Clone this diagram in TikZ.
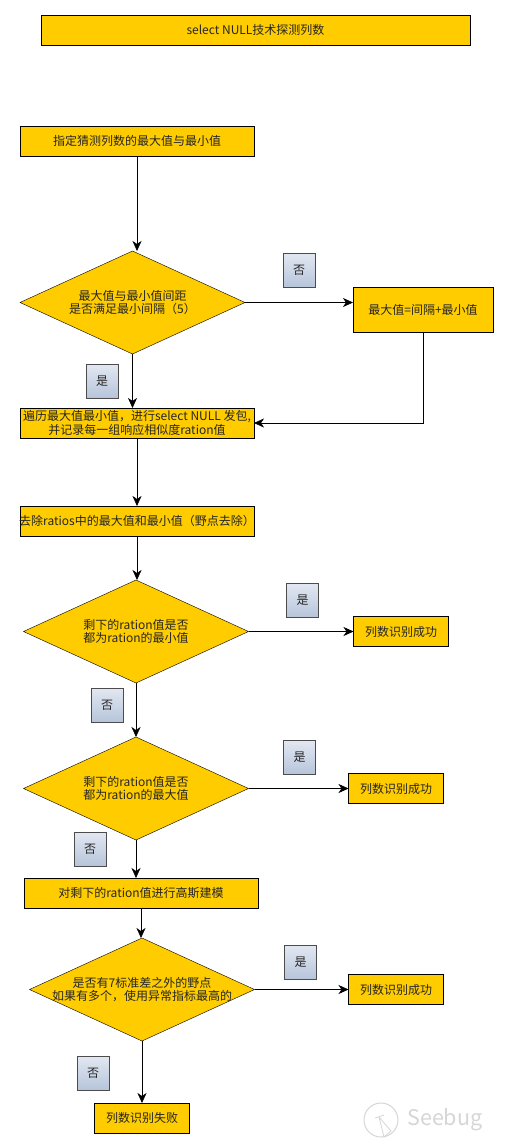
\documentclass[tikz,border=0pt]{standalone}
\usepackage{fontspec}
\setmainfont{Noto Sans CJK SC}
\usetikzlibrary{shapes.geometric, arrows.meta, positioning}
\definecolor{boxyellow}{HTML}{FFCC00}
\definecolor{tagtop}{HTML}{E2E8F2}
\definecolor{tagbottom}{HTML}{B6C4DA}

\begin{document}
\begin{tikzpicture}[
  x=1pt, y=1pt,
  every node/.style={font=\fontsize{12}{13.5}\selectfont, text=black!85, outer sep=0pt},
  block/.style={rectangle, draw, fill=boxyellow, minimum height=30pt, minimum width=234pt, align=center, inner xsep=-6pt, inner ysep=0pt},
  small/.style={block, minimum width=95pt},
  cond/.style={diamond, draw, fill=boxyellow, minimum height=103pt, minimum width=225pt, aspect=2.18, align=center, inner xsep=-8pt, inner ysep=0pt},
  tag/.style={rectangle, draw=black!70, top color=tagtop, bottom color=tagbottom, minimum height=34pt, minimum width=32pt, inner sep=0pt},
  arr/.style={-{Stealth[length=10pt, width=9pt, inset=3pt]}, semithick}
]
\useasboundingbox (0,0) rectangle (509,-1148);
\fill[white] (0,0) rectangle (509,-1148);

% Nodes
\node[block, minimum width=429pt] (title) at (255.5,-30) {select NULL技术探测列数};
\node[block, below=81pt of title, xshift=-118.5pt] (range) {指定猜测列数的最大值与最小值};
\node[cond, below=95pt of range, xshift=-4.5pt] (gap) {最大值与最小值间距\\是否满足最小间隔（5）};
\node[block, right=108pt of gap, yshift=-7.5pt, minimum width=140pt, minimum height=45pt] (setmax) {最大值=间隔+最小值};
\node[block, below=54pt of gap, xshift=4.5pt] (scan) {遍历最大值最小值，进行select NULL 发包,\\并记录每一组响应相似度ration值};
\node[block, below=68pt of scan] (trim) {去除ratios中的最大值和最小值（野点去除）};

% Checks
\node[cond, below=44pt of trim, xshift=-1pt] (ismin) {剩下的ration值是否\\都为ration的最小值};
\node[small, right=105pt of ismin] (okmin) {列数识别成功};
\node[cond, below=54pt of ismin] (ismax) {剩下的ration值是否\\都为ration的最大值};
\node[small, right=100pt of ismax] (okmax) {列数识别成功};
\node[block, below=38pt of ismax, xshift=5pt] (gauss) {对剩下的ration值进行高斯建模};
\node[cond, below=30pt of gauss, xshift=1pt] (outlier) {是否有7标准差之外的野点\\如果有多个，使用异常指标最高的};
\node[small, right=94pt of outlier] (okout) {列数识别成功};
\node[small, below=62pt of outlier] (fail) {列数识别失败};

% Edges
\draw[arr] (range.south) -- (range.south |- gap.north);
\draw[arr] (gap.east) -- (gap.east -| setmax.west);
\draw[arr] (gap.south) -- (gap.south |- scan.north);
\draw[arr] (setmax.south) |- (scan.east);
\draw[arr] (scan) -- (trim);
\draw[arr] (trim.south) -- (trim.south |- ismin.north);
\draw[arr] (ismin) -- (okmin);
\draw[arr] (ismin) -- (ismax);
\draw[arr] (ismax) -- (okmax);
\draw[arr] (ismax.south) -- (ismax.south |- gauss.north);
\draw[arr] (gauss.south) -- (gauss.south |- outlier.north);
\draw[arr] (outlier) -- (okout);
\draw[arr] (outlier.south) -- (outlier.south |- fail.north);

% Tags
\node[tag, left=38pt of setmax, yshift=39.5pt] (tagno1) {否};
\node[tag, below=10pt of gap, xshift=-30.5pt] (tagyes1) {是};
\node[tag, left=35pt of okmin, yshift=31pt] (tagyes2) {是};
\node[tag, below=5pt of ismin, xshift=-29pt] (tagno2) {否};
\node[tag, left=33pt of okmax, yshift=31pt] (tagyes3) {是};
\node[tag, below=-8pt of ismax, xshift=-46pt] (tagno3) {否};
\node[tag, left=32pt of okout, yshift=27pt] (tagyes4) {是};
\node[tag, below=15pt of outlier, xshift=-49pt] (tagno4) {否};

% Watermark
\node[circle, draw=black!16, line width=1pt, minimum size=34pt] (wmlogo) at (381,-1120) {};
\draw[black!16, line width=.8pt] (375,-1118) -- (384,-1115) (379,-1117) -- (384,-1137) -- (391,-1131) -- (379,-1117);
\node[right=6pt of wmlogo, font=\fontsize{21.5}{21.5}\selectfont, text=black!16] (wmtext) {Seebug};
\end{tikzpicture}
\end{document}
